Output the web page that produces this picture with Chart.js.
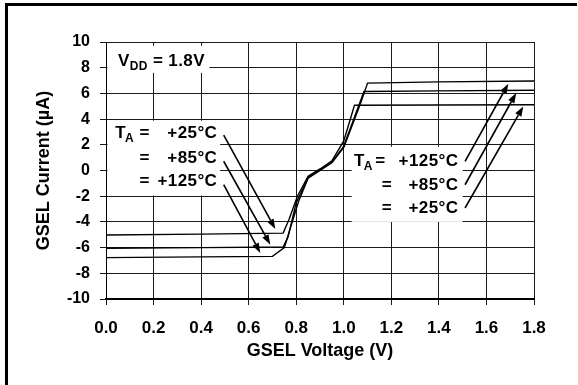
<!DOCTYPE html>
<html>
<head>
<meta charset="utf-8">
<title>GSEL Current vs GSEL Voltage</title>
<style>
  html, body { margin: 0; padding: 0; background: #fff; }
  #wrap { width: 578px; height: 385px; }
</style>
<script src="https://cdn.jsdelivr.net/npm/chart.js@4/dist/chart.umd.min.js"></script>
</head>
<body>
<div id="wrap"><canvas id="gselChart" width="578" height="385"></canvas></div>
<script>
// GSEL current (uA) against GSEL voltage (V), VDD = 1.8V, three temperatures
const voltage25 = [0.0, 0.4, 0.745, 0.77, 0.805, 0.85, 0.90, 0.95, 1.00, 1.045, 1.4, 1.8];
const current25 = [-5.02, -4.95, -4.87, -3.8, -2.0, -0.45, 0.12, 0.75, 2.3, 5.08, 5.1, 5.12];

const voltage85 = [0.0, 0.4, 0.745, 0.765, 0.80, 0.85, 0.90, 0.95, 1.00, 1.085, 1.4, 1.8];
const current85 = [-6.05, -6.0, -5.95, -5.2, -2.5, -0.55, 0.05, 0.65, 1.9, 6.15, 6.2, 6.25];

const voltage125 = [0.0, 0.4, 0.70, 0.75, 0.78, 0.81, 0.85, 0.90, 0.95, 1.00, 1.07, 1.10, 1.4, 1.8];
const current125 = [-6.78, -6.72, -6.68, -6.0, -4.2, -2.4, -0.6, 0.0, 0.6, 1.8, 5.2, 6.8, 6.9, 6.97];

const xTicks = ['0.0', '0.2', '0.4', '0.6', '0.8', '1.0', '1.2', '1.4', '1.6', '1.8'];
const yTicks = ['-10', '-8', '-6', '-4', '-2', '0', '2', '4', '6', '8', '10'];

const FONT = "'Liberation Sans', Arial, sans-serif";

function toPoints(xs, ys) {
    return xs.map((v, i) => ({ x: v, y: ys[i] }));
}

function curve(label, xs, ys) {
    return {
        label: label,
        data: toPoints(xs, ys),
        borderColor: '#000',
        borderWidth: 1.4,
        pointRadius: 0,
        tension: 0,
        fill: false
    };
}

// white panels behind the annotation text (in axis units)
const panels = [
    { x0: 0.006, x1: 0.435, y0: 9.7, y1: 7.6 },
    { x0: 0.006, x1: 0.48, y0: 3.87, y1: -1.95 },
    { x0: 1.033, x1: 1.50, y0: 1.85, y1: -4.0 }
];

// temperature callouts: T_A lead, "=" column, right-aligned value
const callouts = [
    { lead: true, x: 0.039, eq: 0.1413, right: 0.468, y: 2.55, text: '+25°C' },
    { lead: false, x: 0.039, eq: 0.1413, right: 0.468, y: 0.58, text: '+85°C' },
    { lead: false, x: 0.039, eq: 0.1413, right: 0.468, y: -1.22, text: '+125°C' },
    { lead: true, x: 1.043, eq: 1.132, right: 1.482, y: 0.32, text: '+125°C' },
    { lead: false, x: 1.043, eq: 1.160, right: 1.482, y: -1.49, text: '+85°C' },
    { lead: false, x: 1.043, eq: 1.160, right: 1.482, y: -3.31, text: '+25°C' }
];

const arrows = [
    { from: [0.495, 2.75], to: [0.712, -4.55] },
    { from: [0.495, 0.72], to: [0.691, -5.77] },
    { from: [0.495, -1.1], to: [0.649, -6.42] },
    { from: [1.510, 0.71], to: [1.692, 6.75] },
    { from: [1.510, -1.11], to: [1.725, 6.03] },
    { from: [1.510, -2.92], to: [1.755, 4.99] }
];

function drawArrow(ctx, x1, y1, x2, y2) {
    const ang = Math.atan2(y2 - y1, x2 - x1);
    const len = 10, half = 3.5;
    const bx = x2 - len * Math.cos(ang), by = y2 - len * Math.sin(ang);
    ctx.beginPath();
    ctx.moveTo(x1, y1);
    ctx.lineTo(bx, by);
    ctx.stroke();
    ctx.beginPath();
    ctx.moveTo(x2, y2);
    ctx.lineTo(bx + half * Math.sin(ang), by - half * Math.cos(ang));
    ctx.lineTo(bx - half * Math.sin(ang), by + half * Math.cos(ang));
    ctx.closePath();
    ctx.fill();
}

const notes = {
    id: 'notes',
    beforeDatasetsDraw(chart) {
        const { ctx, scales: { x, y } } = chart;
        ctx.save();
        ctx.fillStyle = '#fff';
        panels.forEach(p => {
            const l = x.getPixelForValue(p.x0), r = x.getPixelForValue(p.x1);
            const t = y.getPixelForValue(p.y0), b = y.getPixelForValue(p.y1);
            ctx.fillRect(l, t, r - l, b - t);
        });
        ctx.restore();
    },
    afterDraw(chart) {
        const { ctx, scales: { x, y } } = chart;
        ctx.save();
        ctx.fillStyle = '#000';
        ctx.strokeStyle = '#000';
        ctx.textBaseline = 'alphabetic';
        if ('letterSpacing' in ctx) ctx.letterSpacing = '0.4px';

        const big = 'bold 17px ' + FONT;
        const small = 'bold 12px ' + FONT;

        // supply voltage note
        let px = x.getPixelForValue(0.050), py = y.getPixelForValue(8.10);
        ctx.font = big;
        ctx.textAlign = 'left';
        ctx.fillText('V', px, py);
        px += ctx.measureText('V').width;
        ctx.font = small;
        ctx.fillText('DD', px, py + 4);
        px += ctx.measureText('DD').width;
        ctx.font = big;
        ctx.fillText(' = 1.8V', px, py);

        callouts.forEach(c => {
            const by = y.getPixelForValue(c.y);
            ctx.font = big;
            ctx.textAlign = 'left';
            if (c.lead) {
                const tx = x.getPixelForValue(c.x);
                ctx.fillText('T', tx, by);
                const w = ctx.measureText('T').width;
                ctx.font = small;
                ctx.fillText('A', tx + w - 1, by + 4);
                ctx.font = big;
            }
            ctx.fillText('=', x.getPixelForValue(c.eq), by);
            ctx.textAlign = 'right';
            ctx.fillText(c.text, x.getPixelForValue(c.right), by);
        });

        ctx.lineWidth = 1.6;
        arrows.forEach(a => {
            drawArrow(ctx,
                x.getPixelForValue(a.from[0]), y.getPixelForValue(a.from[1]),
                x.getPixelForValue(a.to[0]), y.getPixelForValue(a.to[1]));
        });

        // outer frame, open on the right and bottom
        ctx.fillRect(5, 3, 572, 3);
        ctx.fillRect(5, 3, 3, 382);
        ctx.restore();
    }
};

const config = {
    type: 'line',
    data: {
        datasets: [
            curve('+25°C', voltage25, current25),
            curve('+85°C', voltage85, current85),
            curve('+125°C', voltage125, current125)
        ]
    },
    options: {
        responsive: false,
        animation: false,
        layout: {
            padding: { left: 0, top: 42, right: 44, bottom: 0 }
        },
        scales: {
            x: {
                type: 'linear',
                min: 0,
                max: 1.8,
                afterFit: scale => { scale.height = 86; },
                afterBuildTicks: scale => {
                    scale.ticks = xTicks.map(t => ({ value: parseFloat(t) }));
                },
                ticks: {
                    color: '#000',
                    padding: 13,
                    autoSkip: false,
                    maxRotation: 0,
                    font: { family: FONT, size: 17, weight: 'bold' },
                    callback: (v, i) => xTicks[i]
                },
                grid: {
                    color: '#1a1a1a',
                    lineWidth: 1,
                    tickLength: 6,
                    tickColor: '#1a1a1a'
                },
                border: { color: '#000', width: 2 },
                title: {
                    display: true,
                    text: 'GSEL Voltage (V)',
                    color: '#000',
                    padding: { top: 0, bottom: 23 },
                    font: { family: FONT, size: 18, weight: 'bold' }
                }
            },
            y: {
                type: 'linear',
                min: -10,
                max: 10,
                afterFit: scale => { scale.width = 106; },
                afterBuildTicks: scale => {
                    scale.ticks = yTicks.map(t => ({ value: parseFloat(t) }));
                },
                ticks: {
                    color: '#000',
                    padding: 10,
                    autoSkip: false,
                    font: { family: FONT, size: 16, weight: 'bold' },
                    callback: (v, i) => yTicks[i]
                },
                grid: {
                    color: '#1a1a1a',
                    lineWidth: 1,
                    tickLength: 6,
                    tickColor: '#1a1a1a'
                },
                border: { color: '#000', width: 1 },
                title: {
                    display: true,
                    text: 'GSEL Current (µA)',
                    color: '#000',
                    padding: { top: 33, bottom: 0 },
                    font: { family: FONT, size: 18, weight: 'bold' }
                }
            }
        },
        plugins: {
            legend: { display: false },
            tooltip: { enabled: false }
        }
    },
    plugins: [notes]
};

const gselChart = new Chart(document.getElementById('gselChart'), config);
</script>
</body>
</html>
